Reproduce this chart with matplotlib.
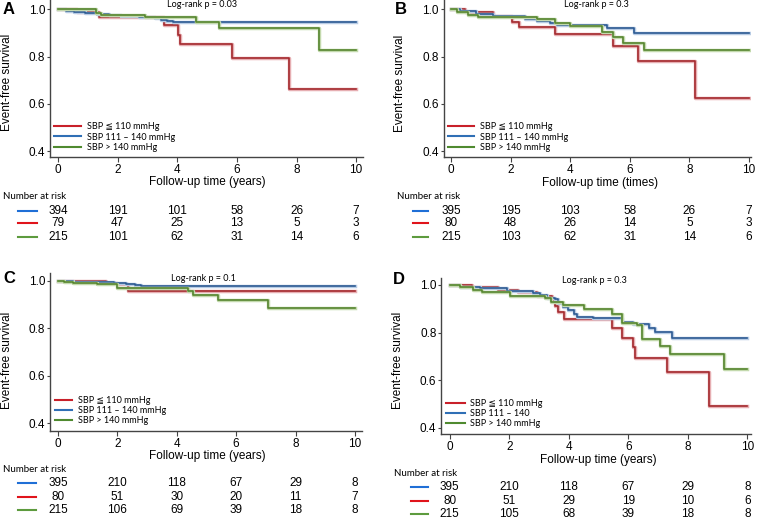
import numpy as np
import matplotlib
matplotlib.use('Agg')
import matplotlib.pyplot as plt
import matplotlib.patheffects as pe
from matplotlib.lines import Line2D
from matplotlib import transforms

# ---- dados ----
years = [0, 2, 4, 6, 8, 10]

# Painel A
a_red_t = [0, 0.63, 1.39, 3.57, 4.03, 4.08, 5.85, 7.76, 10]
a_red_s = [1.0, 0.991, 0.967, 0.932, 0.893, 0.855, 0.794, 0.662, 0.662]
a_blue_t = [0, 0.25, 0.55, 0.9, 1.3, 1.7, 2.1, 2.7, 3.25, 3.45, 3.65, 3.85, 10]
a_blue_s = [1.0, 0.995, 0.99, 0.986, 0.982, 0.977, 0.973, 0.969, 0.963, 0.957, 0.951, 0.945, 0.945]
a_green_t = [0, 1.26, 1.45, 2.92, 4.62, 5.4, 8.77, 10]
a_green_s = [1.0, 0.987, 0.977, 0.967, 0.947, 0.923, 0.830, 0.830]

# Painel B
b_red_t = [0, 0.45, 1.39, 2.06, 2.28, 3.48, 5.45, 6.26, 8.19, 10]
b_red_s = [1.0, 0.989, 0.972, 0.946, 0.925, 0.894, 0.845, 0.780, 0.625, 0.625]
b_blue_t = [0, 0.29, 0.85, 1.41, 2.48, 2.87, 3.32, 3.54, 3.99, 5.22, 6.15, 10]
b_blue_s = [1.0, 0.993, 0.979, 0.972, 0.961, 0.951, 0.942, 0.935, 0.932, 0.923, 0.901, 0.901]
b_green_t = [0, 0.18, 0.57, 0.91, 2.87, 3.48, 3.99, 5.05, 5.44, 5.76, 6.47, 10]
b_green_s = [1.0, 0.989, 0.975, 0.968, 0.958, 0.942, 0.928, 0.904, 0.883, 0.858, 0.827, 0.827]

# Painel C
c_red_t = [0, 1.62, 2.0, 2.37, 10]
c_red_s = [1.0, 0.992, 0.985, 0.959, 0.959]
c_blue_t = [0, 0.5, 1.2, 1.9, 2.3, 2.6, 2.8, 10]
c_blue_s = [1.0, 0.997, 0.994, 0.99, 0.986, 0.982, 0.978, 0.978]
c_green_t = [0, 0.2, 0.5, 1.3, 2.0, 4.38, 4.55, 5.39, 7.06, 10]
c_green_s = [1.0, 0.996, 0.992, 0.985, 0.972, 0.957, 0.941, 0.920, 0.885, 0.885]

# Painel D
d_red_t = [0, 0.74, 1.64, 2.3, 2.95, 3.45, 3.55, 3.65, 3.84, 5.44, 5.78, 6.15, 6.22, 7.29, 8.72, 10]
d_red_s = [1.0, 0.99, 0.979, 0.97, 0.955, 0.935, 0.91, 0.888, 0.857, 0.818, 0.776, 0.738, 0.692, 0.635, 0.492, 0.492]
d_blue_t = [0, 0.35, 1.02, 1.91, 2.8, 3.03, 3.26, 3.54, 3.65, 3.82, 3.99, 4.16, 4.27, 4.83, 5.78, 6.17, 6.68, 6.9, 7.48, 10]
d_blue_s = [1.0, 0.993, 0.986, 0.975, 0.965, 0.958, 0.947, 0.941, 0.923, 0.909, 0.895, 0.877, 0.867, 0.860, 0.846, 0.835, 0.818, 0.804, 0.779, 0.779]
d_green_t = [0, 0.35, 0.8, 1.07, 2.03, 3.2, 3.4, 3.8, 4.5, 5.44, 5.78, 6.3, 6.45, 7.05, 7.4, 9.2, 10]
d_green_s = [1.0, 0.993, 0.979, 0.972, 0.955, 0.945, 0.93, 0.916, 0.898, 0.877, 0.842, 0.83, 0.772, 0.742, 0.708, 0.645, 0.645]

# Número em risco (azul, vermelho, verde)
a_risk_blue = [394, 191, 101, 58, 26, 7]
a_risk_red = [79, 47, 25, 13, 5, 3]
a_risk_green = [215, 101, 62, 31, 14, 6]
b_risk_blue = [395, 195, 103, 58, 26, 7]
b_risk_red = [80, 48, 26, 14, 5, 3]
b_risk_green = [215, 103, 62, 31, 14, 6]
c_risk_blue = [395, 210, 118, 67, 29, 8]
c_risk_red = [80, 51, 30, 20, 11, 7]
c_risk_green = [215, 106, 69, 39, 18, 8]
d_risk_blue = [395, 210, 118, 67, 29, 8]
d_risk_red = [80, 51, 29, 19, 10, 6]
d_risk_green = [215, 105, 68, 39, 18, 8]

labels_abc = ['SBP \u2266 110 mmHg', 'SBP 111 \u2013 140 mmHg', 'SBP > 140 mmHg']
labels_d = ['SBP \u2266 110 mmHg', 'SBP 111 \u2013 140', 'SBP > 140 mmHg']
pvals = ['Log-rank p = 0.03', 'Log-rank p = 0.3', 'Log-rank p = 0.1', 'Log-rank p = 0.3']

# ---- estilo ----
W, H = 758, 519
ARIAL = 'Liberation Sans'
SMALL = ['Lato', 'DejaVu Sans']

curve_col = {'red': '#a52a2f', 'blue': '#2d5b93', 'green': '#56862f'}
halo_col = {'red': '#e6aeb2', 'blue': '#b7cbe4', 'green': '#c3d9ad'}
leg_col = {'red': '#c8202a', 'blue': '#2f6fb5', 'green': '#4f8a2f'}
tab_col = {'blue': '#1f6fd6', 'red': '#e0141b', 'green': '#5d9b3e'}


def fx(px):
    return px / W


def fy(py):
    return 1 - py / H


fig = plt.figure(figsize=(7.58, 5.19), dpi=100)


def painel(box, xlim, ylim, curvas, letra, letra_xy, ylab_xy, xlab_xy, pval, p_xy,
           leg_labels, leg_anchor, leg_hl, riscos, tab_head, tab_rows, mark_x):
    left, top, right, bottom = box
    ax = fig.add_axes([fx(left), fy(bottom), (right - left) / W, (bottom - top) / H])
    for nome, (t, s) in curvas.items():
        ax.step(t, s, where='post', color=curve_col[nome], lw=1.2,
                path_effects=[pe.Stroke(linewidth=2.5, foreground=halo_col[nome]), pe.Normal()])
    ax.set_xlim(*xlim)
    ax.set_ylim(*ylim)
    ax.set_xticks(years)
    ax.set_yticks([0.4, 0.6, 0.8, 1.0])
    ax.set_yticklabels(['0.4', '0.6', '0.8', '1.0'])
    for sp in ['top', 'right']:
        ax.spines[sp].set_visible(False)
    for sp in ['left', 'bottom']:
        ax.spines[sp].set_color('#444444')
        ax.spines[sp].set_linewidth(1.0)
    ax.tick_params(axis='x', direction='out', length=3.5, width=0.8, pad=1.5,
                   labelsize=8.5, color='#444444')
    ax.tick_params(axis='y', direction='out', length=2.5, width=0.8, pad=1,
                   labelsize=8.5, color='#444444')
    for lab in ax.get_xticklabels() + ax.get_yticklabels():
        lab.set_family(ARIAL)

    handles = [Line2D([], [], color=leg_col[c], lw=1.5) for c in ['red', 'blue', 'green']]
    ax.legend(handles, leg_labels, loc='lower left', bbox_to_anchor=leg_anchor,
              frameon=False, borderpad=0, borderaxespad=0, handlelength=leg_hl,
              handletextpad=0.6, labelspacing=0.12, prop={'family': SMALL, 'size': 6.5})

    ax.text(p_xy[0], p_xy[1], pval, transform=ax.transAxes, ha='center', va='center',
            fontsize=6.5, family=SMALL)
    fig.text(fx(letra_xy[0]), fy(letra_xy[1]), letra, ha='left', va='center',
             fontsize=12, fontweight='bold', family=ARIAL)
    fig.text(fx(ylab_xy[0]), fy(ylab_xy[1]), 'Event-free survival', rotation=90,
             ha='center', va='center', fontsize=8.5, family=ARIAL)
    fig.text(fx(xlab_xy[0]), fy(xlab_xy[1]), xlab_xy[2], ha='center', va='center',
             fontsize=8.5, family=ARIAL)

    # tabela de número em risco
    fig.text(fx(tab_head[0]), fy(tab_head[1]), 'Number at risk', ha='left', va='center',
             fontsize=7, family=SMALL)
    trans = transforms.blended_transform_factory(ax.transData, fig.transFigure)
    for (nome, valores), py in zip(riscos, tab_rows):
        fig.add_artist(Line2D([fx(mark_x[0]), fx(mark_x[1])], [fy(py), fy(py)],
                              transform=fig.transFigure, color=tab_col[nome], lw=1.5))
        for t, v in zip(years, valores):
            fig.text(t, fy(py), str(v), transform=trans, ha='center', va='center',
                     fontsize=8.5, family=ARIAL)
    return ax


painel((50, 0, 363, 157), (-0.27, 10.23), (0.375, 1.04),
       {'red': (a_red_t, a_red_s), 'blue': (a_blue_t, a_blue_s), 'green': (a_green_t, a_green_s)},
       'A', (3, 10), (7, 82), (207, 182, 'Follow-up time (years)'), pvals[0], (0.485, 0.97),
       labels_abc, (0.013, 0.034), 3.0,
       [('blue', a_risk_blue), ('red', a_risk_red), ('green', a_risk_green)],
       (3, 196.7), (210.7, 223.3, 236.7), (18, 37))

painel((443.7, 0, 750.7, 157), (-0.25, 10.06), (0.375, 1.04),
       {'red': (b_red_t, b_red_s), 'blue': (b_blue_t, b_blue_s), 'green': (b_green_t, b_green_s)},
       'B', (394.7, 10), (400, 83), (600.5, 182.7, 'Follow-up time (times)'), pvals[1], (0.497, 0.97),
       labels_abc, (0.014, 0.034), 2.9,
       [('blue', b_risk_blue), ('red', b_risk_red), ('green', b_risk_green)],
       (396.7, 196.7), (210.7, 223.3, 236.7), (412.7, 428.3))

painel((50, 273.3, 361.7, 430.7), (-0.27, 10.23), (0.369, 1.032),
       {'red': (c_red_t, c_red_s), 'blue': (c_blue_t, c_blue_s), 'green': (c_green_t, c_green_s)},
       'C', (3, 278.5), (7, 360), (207, 455.7, 'Follow-up time (years)'), pvals[2], (0.492, 0.968),
       labels_abc, (0.016, 0.036), 1.9,
       [('blue', c_risk_blue), ('red', c_risk_red), ('green', c_risk_green)],
       (3, 470), (483.3, 496.7, 510), (18, 36))

painel((441.3, 278.3, 751.3, 434), (-0.28, 10.13), (0.3735, 1.028),
       {'red': (d_red_t, d_red_s), 'blue': (d_blue_t, d_blue_s), 'green': (d_green_t, d_green_s)},
       'D', (393, 280), (398, 360), (598.5, 460, 'Follow-up time (years)'), pvals[3], (0.495, 0.989),
       labels_d, (0.015, 0.037), 2.1,
       [('blue', d_risk_blue), ('red', d_risk_red), ('green', d_risk_green)],
       (393.7, 473.3), (487.3, 501, 514), (410.6, 427.5))

plt.savefig('out.png', dpi=100)
